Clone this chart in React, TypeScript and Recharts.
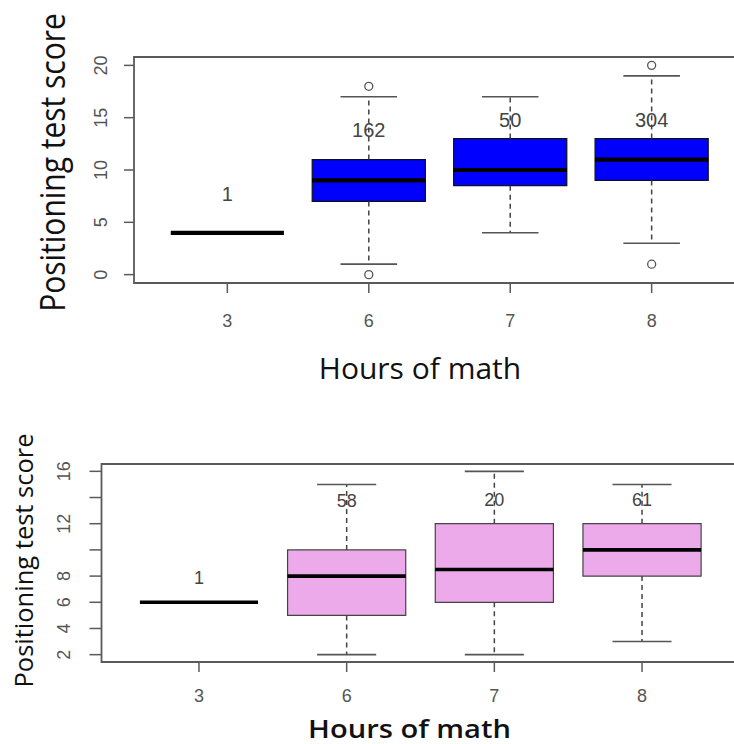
import React from 'react';
import { ComposedChart, XAxis, YAxis, ReferenceArea, ReferenceLine, Scatter } from 'recharts';

// ---------- data ----------
const hoursCategories = ['3', '6', '7', '8'];
const categoryPositions = [1, 2, 3, 4];

// top panel
const topQ1 = [4, 7, 8.5, 9];
const topMedian = [4, 9, 10, 11];
const topQ3 = [4, 11, 13, 13];
const topWhiskerLow = [4, 1, 4, 3];
const topWhiskerHigh = [4, 17, 17, 19];
const topOutliers = [[], [0, 18], [], [1, 20]];
const topCounts = ['1', '162', '50', '304'];
const topCountY = [7.7, 13.8, 14.8, 14.8];
const topYTicks = [0, 5, 10, 15, 20];

// bottom panel
const botQ1 = [6, 5, 6, 8];
const botMedian = [6, 8, 8.5, 10];
const botQ3 = [6, 10, 12, 12];
const botWhiskerLow = [6, 2, 2, 3];
const botWhiskerHigh = [6, 15, 16, 15];
const botOutliers = [[], [], [], []];
const botCounts = ['1', '58', '20', '61'];
const botCountY = [7.85, 13.75, 13.8, 13.8];
const botYTicks = [2, 4, 6, 8, 10, 12, 14, 16];
const botYTickLabels = ['2', '4', '6', '8', '', '12', '', '16'];

const xTitle = 'Hours of math';
const yTitle = 'Positioning test score';

// ---------- styling ----------
const FRAME = '#5a5a5a';
const TICK_FONT = '"Liberation Sans", Arial, sans-serif';
const TITLE_FONT = '"Open Sans", sans-serif';
const BOX_HALF = 0.4;
const CAP_HALF = 0.2;

type Panel = {
  q1: number[]; median: number[]; q3: number[];
  wLo: number[]; wHi: number[]; outliers: number[][];
  counts: string[]; countY: number[];
  yDomain: [number, number]; yTicks: number[]; yTickLabels: string[];
  fill: string; boxStroke: string; medianWidth: number;
  countFont: number; xLabelDy: number; yLabelDx: number; yTickSize: number;
  width: number; height: number; margin: any; yAxisWidth: number; top: number;
};

const makeXTick = (dy: number) => (props: any) => {
  const { x, y, payload } = props;
  const label = hoursCategories[categoryPositions.indexOf(payload.value)] ?? '';
  return (
    <text x={x} y={y + dy} textAnchor="middle" fontFamily={TICK_FONT} fontSize={18} fill="#555">
      {label}
    </text>
  );
};

const makeYTick = (dx: number, ticks: number[], labels: string[]) => (props: any) => {
  const { x, y, payload } = props;
  const idx = ticks.indexOf(payload.value);
  const label = idx >= 0 ? labels[idx] : '';
  const tx = x - dx;
  return (
    <text x={tx} y={y} transform={`rotate(-90 ${tx} ${y})`} textAnchor="middle" fontFamily={TICK_FONT} fontSize={18} fill="#555">
      {label}
    </text>
  );
};

function BoxChart({ p }: { p: Panel }) {
  const els: any[] = [];
  const [y0, y1] = p.yDomain;
  els.push(
    <ReferenceArea key="frame" x1={0.34} x2={4.66} y1={y0} y2={y1} fill="none" fillOpacity={0} stroke={FRAME} strokeWidth={1.8} ifOverflow="visible" />
  );
  categoryPositions.forEach((pos, i) => {
    els.push(
      <ReferenceLine key={`wu${i}`} segment={[{ x: pos, y: p.q3[i] }, { x: pos, y: p.wHi[i] }]} stroke="#444" strokeWidth={1.5} strokeDasharray="5 4" ifOverflow="visible" />,
      <ReferenceLine key={`wl${i}`} segment={[{ x: pos, y: p.q1[i] }, { x: pos, y: p.wLo[i] }]} stroke="#444" strokeWidth={1.5} strokeDasharray="5 4" ifOverflow="visible" />,
      <ReferenceLine key={`cu${i}`} segment={[{ x: pos - CAP_HALF, y: p.wHi[i] }, { x: pos + CAP_HALF, y: p.wHi[i] }]} stroke="#555" strokeWidth={1.6} ifOverflow="visible" />,
      <ReferenceLine key={`cl${i}`} segment={[{ x: pos - CAP_HALF, y: p.wLo[i] }, { x: pos + CAP_HALF, y: p.wLo[i] }]} stroke="#555" strokeWidth={1.6} ifOverflow="visible" />
    );
  });
  categoryPositions.forEach((pos, i) => {
    if (p.q3[i] > p.q1[i]) {
      els.push(
        <ReferenceArea key={`box${i}`} x1={pos - BOX_HALF} x2={pos + BOX_HALF} y1={p.q1[i]} y2={p.q3[i]} fill={p.fill} fillOpacity={1} stroke={p.boxStroke} strokeWidth={1.2} ifOverflow="visible" />
      );
    }
  });
  categoryPositions.forEach((pos, i) => {
    els.push(
      <ReferenceLine key={`med${i}`} segment={[{ x: pos - BOX_HALF, y: p.median[i] }, { x: pos + BOX_HALF, y: p.median[i] }]} stroke="#000" strokeWidth={p.medianWidth} ifOverflow="visible" />
    );
  });

  const outlierData = categoryPositions.flatMap((pos, i) => p.outliers[i].map((v) => ({ x: pos, y: v })));
  const countData = categoryPositions.map((pos, i) => ({ x: pos, y: p.countY[i], label: p.counts[i] }));

  return (
    <ComposedChart width={p.width} height={p.height} margin={p.margin} style={{ position: 'absolute', left: 0, top: p.top }}>
      <XAxis
        type="number"
        dataKey="x"
        domain={[0.34, 4.66]}
        allowDataOverflow
        ticks={categoryPositions}
        interval={0}
        axisLine={false}
        tickSize={10}
        tickLine={{ stroke: FRAME, strokeWidth: 1.5 }}
        tick={makeXTick(p.xLabelDy)}
        height={40}
      />
      <YAxis
        type="number"
        dataKey="y"
        domain={p.yDomain}
        allowDataOverflow
        ticks={p.yTicks}
        interval={0}
        axisLine={false}
        tickSize={p.yTickSize}
        tickLine={{ stroke: FRAME, strokeWidth: 1.5 }}
        tick={makeYTick(p.yLabelDx, p.yTicks, p.yTickLabels)}
        width={p.yAxisWidth}
      />
      {els}
      <Scatter
        data={outlierData}
        isAnimationActive={false}
        shape={(s: any) => <circle cx={s.cx} cy={s.cy} r={4} fill="none" stroke="#555" strokeWidth={1.3} />}
      />
      <Scatter
        data={countData}
        isAnimationActive={false}
        shape={(s: any) => (
          <text x={s.cx} y={s.cy} dominantBaseline="central" textAnchor="middle" fontFamily={TICK_FONT} fontSize={p.countFont} fill="#444">
            {s.payload.label}
          </text>
        )}
      />
    </ComposedChart>
  );
}

const topPanel: Panel = {
  q1: topQ1, median: topMedian, q3: topQ3, wLo: topWhiskerLow, wHi: topWhiskerHigh, outliers: topOutliers,
  counts: topCounts, countY: topCountY,
  yDomain: [-0.8, 20.8], yTicks: topYTicks, yTickLabels: topYTicks.map(String),
  fill: '#0000FF', boxStroke: '#111', medianWidth: 4.2,
  countFont: 20, xLabelDy: 32, yLabelDx: 15, yTickSize: 10,
  width: 760, height: 400, margin: { top: 57, right: 15, bottom: 77, left: 0 }, yAxisWidth: 134, top: 0,
};

const bottomPanel: Panel = {
  q1: botQ1, median: botMedian, q3: botQ3, wLo: botWhiskerLow, wHi: botWhiskerHigh, outliers: botOutliers,
  counts: botCounts, countY: botCountY,
  yDomain: [1.44, 16.56], yTicks: botYTicks, yTickLabels: botYTickLabels,
  fill: '#EDAAEA', boxStroke: '#444', medianWidth: 3.6,
  countFont: 18, xLabelDy: 28, yLabelDx: 17.5, yTickSize: 12,
  width: 760, height: 344, margin: { top: 64, right: 20.5, bottom: 42, left: 0 }, yAxisWidth: 101.5, top: 400,
};

export default function App() {
  return (
    <div style={{ position: 'fixed', left: 0, top: 0, width: 734, height: 744, overflow: 'hidden', background: '#fff' }}>
      <BoxChart p={topPanel} />
      <BoxChart p={bottomPanel} />
      <svg width={734} height={744} style={{ position: 'absolute', left: 0, top: 0, pointerEvents: 'none' }}>
        <text x={420} y={379} textAnchor="middle" fontFamily={TITLE_FONT} fontSize={30} fill="#111">{xTitle}</text>
        <g transform="translate(65 162.5) rotate(-90) scale(1 1.17)">
          <text x={0} y={0} textAnchor="middle" fontFamily={TITLE_FONT} fontSize={30} fill="#111">{yTitle}</text>
        </g>
        <g transform="translate(409.5 737.5) scale(1.12 1)">
          <text x={0} y={0} textAnchor="middle" fontFamily={TITLE_FONT} fontSize={26} fontWeight={600} fill="#111">{xTitle}</text>
        </g>
        <g transform="translate(33 560.5) rotate(-90)">
          <text x={0} y={0} textAnchor="middle" fontFamily={TITLE_FONT} fontSize={25.5} fill="#111">{yTitle}</text>
        </g>
      </svg>
    </div>
  );
}
